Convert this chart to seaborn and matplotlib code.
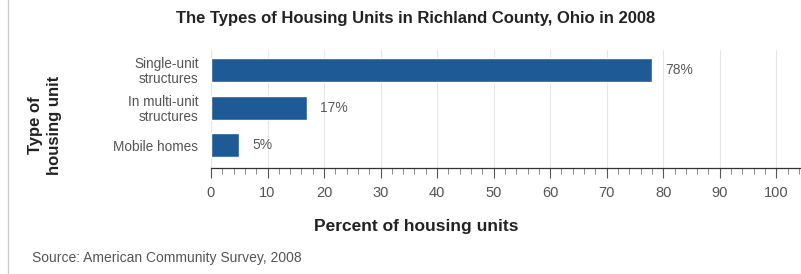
import matplotlib
matplotlib.use("Agg")
import matplotlib.pyplot as plt
import matplotlib.lines as mlines
from matplotlib.ticker import MultipleLocator
import pandas as pd
import seaborn as sns

# data
housing_types = ["Single-unit\nstructures", "In multi-unit\nstructures", "Mobile homes"]
percents = [78, 17, 5]
pct_labels = ["78%", "17%", "5%"]

sns.set_theme(style="white")
plt.rcParams["font.family"] = ["Liberation Sans", "DejaVu Sans"]

df = pd.DataFrame({"type": housing_types, "pct": percents})

fig = plt.figure(figsize=(8.01, 2.74), dpi=100)
ax = fig.add_axes([211 / 801, 1 - 168 / 274, 589 / 801, 118 / 274])

sns.barplot(data=df, x="pct", y="type", orient="h", color="#1d5a96",
            saturation=1, width=0.64, ax=ax)

for i, (v, lab) in enumerate(zip(percents, pct_labels)):
    ax.text(v + 2.3, i, lab, va="center", ha="left", fontsize=10, color="#5a5a5a")

ax.set_xlim(0, 104.2)
ax.set_ylim(2.6, -0.53)
ax.xaxis.set_major_locator(MultipleLocator(10))
ax.xaxis.set_minor_locator(MultipleLocator(2))
ax.set_xticks(range(0, 101, 10))
ax.grid(axis="x", which="major", color="#e6e6e6", linewidth=0.8)
ax.set_axisbelow(True)

for s in ["top", "right", "left"]:
    ax.spines[s].set_visible(False)
ax.spines["bottom"].set_color("#333333")
ax.spines["bottom"].set_linewidth(0.9)

ax.tick_params(axis="x", which="major", bottom=True, direction="out", length=7,
               width=0.8, color="#555555", labelsize=10.5, labelcolor="#555555", pad=6)
ax.tick_params(axis="x", which="minor", bottom=True, direction="out", length=4,
               width=0.6, color="#777777")
ax.tick_params(axis="y", left=False, labelsize=9.8, labelcolor="#555555", pad=3)
for t in ax.get_yticklabels():
    t.set_linespacing(1.05)

ax.set_xlabel("Percent of housing units", fontsize=12.5, fontweight="bold",
              color="#222222", va="center")
ax.xaxis.set_label_coords((416 - 211) / 589, (168 - 227) / 118)
ax.set_ylabel("")

fig.text(416 / 801, 1 - 19 / 274, "The Types of Housing Units in Richland County, Ohio in 2008",
         ha="center", va="center", fontsize=12, fontweight="bold", color="#222222")
fig.text(45 / 801, 1 - 125 / 274, "Type of\nhousing unit", ha="center", va="center",
         rotation=90, fontsize=12, fontweight="bold", color="#222222", linespacing=1.35)
fig.text(32 / 801, 1 - 258 / 274, "Source: American Community Survey, 2008",
         ha="left", va="center", fontsize=10, color="#555555")

# thin frame line on the left edge
fig.add_artist(mlines.Line2D([8 / 801, 8 / 801], [0, 1], transform=fig.transFigure,
                             color="#cccccc", linewidth=1))

fig.savefig("out.png", dpi=100)
